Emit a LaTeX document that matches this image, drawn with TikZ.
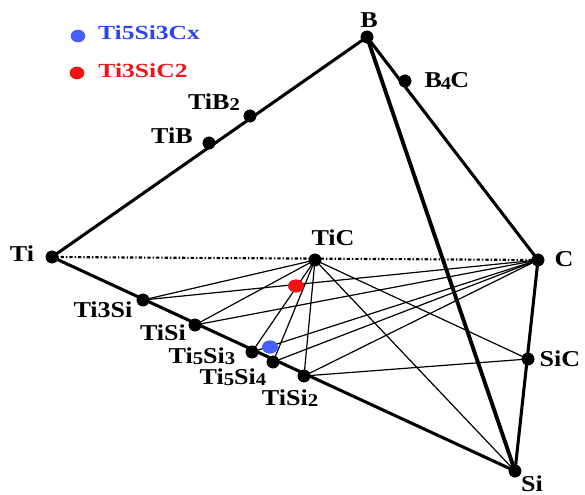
\documentclass[tikz,border=0pt]{standalone}
\usepackage{fontspec}
\usetikzlibrary{shapes.geometric}
\newfontfamily\labfont[FakeStretch=1.15]{Liberation Serif}
\newfontfamily\legfont[FakeStretch=1.28]{Liberation Serif}
\newcommand\sbd[1]{\raisebox{-0.1ex}{\fontsize{13.5}{14}\selectfont #1}}
\definecolor{legblue}{RGB}{45,70,235}
\definecolor{dotblue}{RGB}{70,95,255}
\definecolor{legred}{RGB}{240,20,20}
\tikzset{
  pt/.style={circle,fill=black,inner sep=0pt,minimum size=9.5pt},
  lab/.style={font=\labfont\bfseries\fontsize{17}{18}\selectfont,inner sep=0pt},
  leg/.style={font=\legfont\bfseries\fontsize{15}{17}\selectfont,inner sep=0pt},
  edge/.style={line width=2.3pt},
  thin/.style={line width=0.9pt},
  tieline/.style={line width=1.6pt,dash pattern=on 2.5pt off 1.5pt on 1pt off 1.5pt},
  phase/.style={ellipse,inner sep=0pt,minimum width=12pt,minimum height=10pt}
}
\begin{document}
\begin{tikzpicture}[x=0.75pt,y=-0.75pt]
\useasboundingbox (0,0) rectangle (585,495);
% vertices
\node[pt] (B) at (367,37) {};
\node[pt] (B4C) at (405,81) {};
\node[pt] (TiB2) at (250,116) {};
\node[pt] (TiB) at (209,143) {};
\node[pt] (Ti) at (52,257) {};
\node[pt] (TiC) at (315,260) {};
\node[pt] (C) at (538,260) {};
\node[pt] (Ti3Si) at (143,300) {};
\node[pt] (TiSi) at (195,325) {};
\node[pt] (Ti5Si3) at (252,352) {};
\node[pt] (Ti5Si4) at (273,362) {};
\node[pt] (TiSi2) at (304,376) {};
\node[pt] (SiC) at (528,359) {};
\node[pt] (Si) at (515,471) {};
% thick edges
\draw[edge] (Ti.center) -- (B.center);
\draw[edge] (B.center) -- (C.center);
\draw[edge,line width=2.9pt] (B.center) -- (Si.center);
\draw[edge] (C.center) -- (Si.center);
\draw[edge] (Ti.center) -- (Si.center);
\draw[tieline] (Ti.center) -- (C.center);
% thin tie lines
\foreach \p in {Ti3Si,TiSi,Ti5Si3,Ti5Si4,TiSi2,SiC,Si} \draw[thin] (TiC.center) -- (\p.center);
\foreach \p in {Ti3Si,TiSi,Ti5Si3,Ti5Si4,TiSi2} \draw[thin] (C.center) -- (\p.center);
\draw[thin] (TiSi2.center) -- (SiC.center);
% redraw dots on top
\foreach \p in {B,B4C,TiB2,TiB,Ti,TiC,C,Ti3Si,TiSi,Ti5Si3,Ti5Si4,TiSi2,SiC,Si} \fill (\p) circle (4.75pt);
% ternary phases
\node[phase,fill=legred] (p1) at (296,286) {};
\node[phase,fill=dotblue] (p2) at (270,347) {};
% labels
\node[lab] (lB) at (369,20) {B};
\node[lab] (lB4C) at (447,81) {B\kern-1pt\sbd{4}\kern-0.5ptC};
\node[lab] (lTiB2) at (214,102) {TiB\sbd{2}};
\node[lab] (lTiB) at (172,136) {TiB};
\node[lab] (lTi) at (22,254) {Ti};
\node[lab] (lTiC) at (333,238) {TiC};
\node[lab] (lC) at (564,259) {C};
\node[lab] (lTi3Si) at (103,310) {Ti3Si};
\node[lab] (lTiSi) at (163,333) {TiSi};
\node[lab] (lTi5Si3) at (202,356) {Ti\sbd{5}Si\sbd{3}};
\node[lab] (lTi5Si4) at (233,377) {Ti\sbd{5}Si\sbd{4}};
\node[lab] (lTiSi2) at (290,398) {TiSi\sbd{2}};
\node[lab] (lSi) at (532,484) {Si};
\node[lab] (lSiC) at (560,359) {SiC};
% legend
\node[phase,fill=dotblue,minimum width=11pt,minimum height=9.5pt] (k1) at (78,36) {};
\node[leg,text=legblue] (t1) at (149,33) {Ti5Si3Cx};
\node[phase,fill=legred,minimum width=11pt,minimum height=9.5pt] (k2) at (77,73) {};
\node[leg,text=legred] (t2) at (143,71) {Ti3SiC2};
\end{tikzpicture}
\end{document}
